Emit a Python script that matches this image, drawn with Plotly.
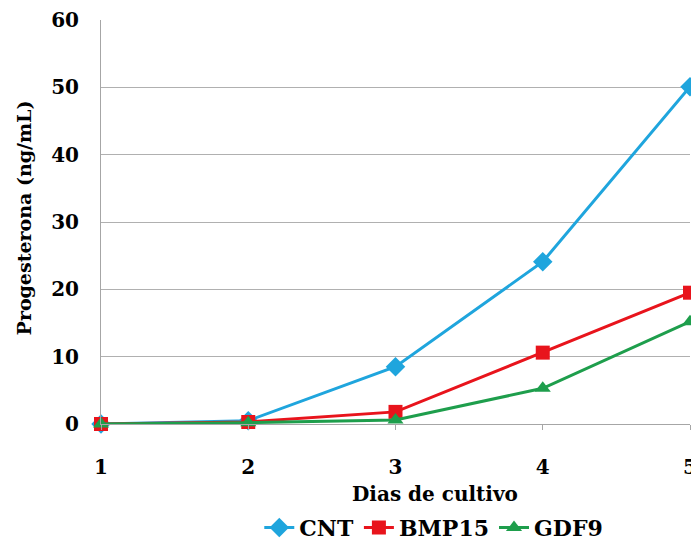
import plotly.graph_objects as go

days = [1, 2, 3, 4, 5]
cnt = [0.0, 0.5, 8.5, 24.1, 50.1]
bmp15 = [0.0, 0.3, 1.8, 10.6, 19.5]
gdf9 = [0.0, 0.2, 0.6, 5.3, 15.2]
y_ticks = [0, 10, 20, 30, 40, 50, 60]

FONT = "DejaVu Serif"

fig = go.Figure()
fig.add_trace(go.Scatter(x=days, y=cnt, name="<b>CNT</b>", mode="lines+markers",
                         line=dict(color="#1fa5dd", width=3),
                         marker=dict(symbol="diamond", size=15, color="#1fa5dd"),
                         cliponaxis=False))
fig.add_trace(go.Scatter(x=days, y=bmp15, name="<b>BMP15</b>", mode="lines+markers",
                         line=dict(color="#e8141c", width=3),
                         marker=dict(symbol="square", size=14, color="#e8141c"),
                         cliponaxis=False))
fig.add_trace(go.Scatter(x=days, y=gdf9, name="<b>GDF9</b>", mode="lines+markers",
                         line=dict(color="#1e9e4c", width=3),
                         marker=dict(symbol="triangle-up", size=14, color="#1e9e4c"),
                         cliponaxis=False))

fig.update_layout(
    width=699, height=542,
    margin=dict(l=93, r=17, t=12, b=126, autoexpand=False),
    paper_bgcolor="white", plot_bgcolor="white",
    font=dict(family=FONT, color="black", size=20),
    showlegend=True,
    legend=dict(orientation="h", x=0.565, xanchor="center",
                yref="container", y=0.041, yanchor="middle",
                font=dict(family=FONT, size=22, color="black"),
                itemwidth=30, tracegroupgap=0, bgcolor="rgba(0,0,0,0)"),
    xaxis=dict(range=[1, 5], tickvals=days, ticktext=[f"<b>{d}</b>" for d in days],
               showgrid=False, zeroline=False, showline=True, linecolor="#a6a6a6",
               linewidth=1, ticks="outside", ticklen=5, tickcolor="#a6a6a6",
               ticklabelstandoff=20, tickfont=dict(family=FONT, size=20)),
    yaxis=dict(range=[0, 60], tickvals=y_ticks, ticktext=[f"<b>{v}</b>" for v in y_ticks],
               showgrid=True, gridcolor="#b0b0b0", gridwidth=1, zeroline=False,
               showline=True, linecolor="#a6a6a6", linewidth=1, ticks="",
               ticklabelstandoff=17, tickfont=dict(family=FONT, size=20)),
    annotations=[
        dict(text="<b>Dias de cultivo</b>", xref="paper", yref="paper", x=0.567, y=-0.173,
             xanchor="center", yanchor="middle", showarrow=False,
             font=dict(family=FONT, size=20, color="black")),
        dict(text="<b>Progesterona (ng/mL)</b>", xref="paper", yref="paper", x=-0.13, y=0.51,
             xanchor="center", yanchor="middle", textangle=-90, showarrow=False,
             font=dict(family=FONT, size=19, color="black")),
    ],
)

fig.write_html("out.html")
